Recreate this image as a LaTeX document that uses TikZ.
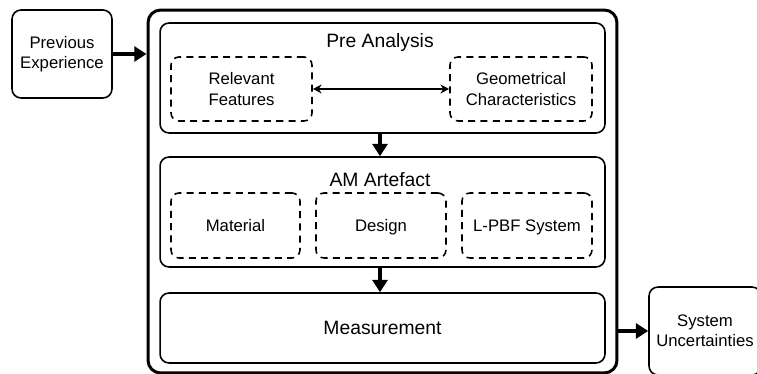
\documentclass[tikz,border=0pt]{standalone}
\usepackage{fontspec}
\setmainfont{Liberation Sans}
\usetikzlibrary{arrows.meta}
\usetikzlibrary{positioning}

\tikzset{
    roundbox/.style={draw, rounded corners=0.18cm, line width=0.9pt, inner sep=0pt},
    dashbox/.style={draw, rounded corners=0.16cm, line width=0.9pt, dash pattern=on 4pt off 3pt,
        inner sep=0pt, align=center, font=\fontsize{9.5}{11.5}\selectfont},
    oneline/.style={text height=1.55ex, text depth=0.35ex},
    titletext/.style={font=\fontsize{11}{13}\selectfont},
    flow/.style={-{Triangle[length=7pt,width=8.5pt]}, line width=2.2pt},
}

\begin{document}
\begin{tikzpicture}[x=0.02cm, y=-0.02cm]
                \useasboundingbox (0, 0) rectangle (757, 374);

                % outer frame
                \node[draw, line width=1.7pt, rounded corners=0.25cm, minimum width=9.38cm, minimum height=7.26cm](outer) at (382.5, 191.5){};

                \node[roundbox, minimum width=2cm, minimum height=1.76cm, align=center, font=\fontsize{9.5}{11.5}\selectfont](prev) at (62, 54){Previous\\Experience};
                \node[roundbox, minimum width=2.24cm, minimum height=1.76cm, align=center, font=\fontsize{9.5}{11.5}\selectfont](sys) at (705, 331){System\\Uncertainties};

                % pre analysis
                \node[roundbox, minimum width=8.9cm, minimum height=2.2cm](pre) at (382.5, 78){};
                \node[titletext](pretitle) at (380, 43){Pre Analysis};
                \node[dashbox, minimum width=2.82cm, minimum height=1.28cm](rel) at (241.5, 89){Relevant\\Features};
                \node[dashbox, minimum width=2.84cm, minimum height=1.28cm](geo) at (521, 89){Geometrical\\Characteristics};

                % am artefact
                \node[roundbox, minimum width=8.9cm, minimum height=2.2cm](am) at (382.5, 212){};
                \node[titletext](amtitle) at (380, 180){AM Artefact};
                \node[dashbox, oneline, minimum width=2.58cm, minimum height=1.3cm](mat) at (235.5, 225.5){Material};
                \node[dashbox, oneline, minimum width=2.6cm, minimum height=1.3cm](des) at (381, 225.5){Design};
                \node[dashbox, oneline, minimum width=2.6cm, minimum height=1.3cm](lpbf) at (527, 225.5){L-PBF System};

                % measurement
                \node[roundbox, minimum width=8.9cm, minimum height=1.4cm, titletext](meas) at (382.5, 328){Measurement};

                \draw[{Stealth[length=5pt,width=5pt]}-{Stealth[length=5pt,width=5pt]}, line width=1.3pt](rel)--(geo);
                \draw[flow](prev.east)--(prev.east -| outer.west);
                \draw[flow]([xshift=-0.05cm]pre.south)--([xshift=-0.05cm]am.north);
                \draw[flow]([xshift=-0.05cm]am.south)--([xshift=-0.05cm]meas.north);
                \draw[flow](sys.west -| outer.east)--(sys.west);
            \end{tikzpicture}
\end{document}
